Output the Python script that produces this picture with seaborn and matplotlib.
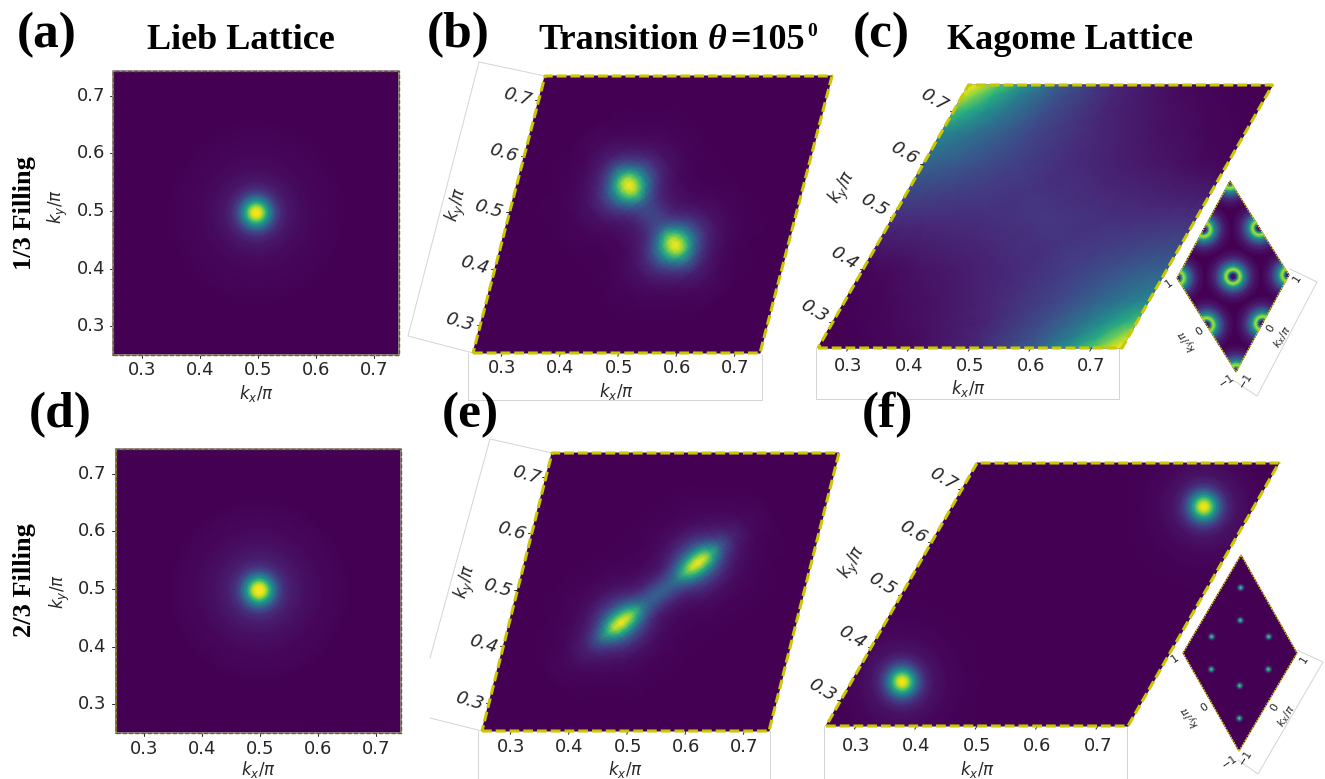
"""
plot.py

Six momentum-space panels (Lieb -> Kagome), two rows of filling, drawn on one
pixel-sized axes so the sheared panels can keep the pasted-together look.
"""

import numpy as np
import matplotlib.pyplot as plt
from matplotlib.patches import Polygon
from matplotlib.transforms import Affine2D
import seaborn as sns

sns.set_theme(style="white")
plt.rcParams["font.family"] = ["DejaVu Sans"]
plt.rcParams["mathtext.fontset"] = "dejavusans"

CMAP = sns.color_palette("viridis", as_cmap=True)
TICKS = [0.3, 0.4, 0.5, 0.6, 0.7]
TICK_LABELS = ["0.3", "0.4", "0.5", "0.6", "0.7"]

# --- single peaks: radial offset in k/pi and intensity
RAD_A = [0, 0.007, 0.012, 0.017, 0.022, 0.028, 0.034, 0.043, 0.055, 0.078, 0.112, 0.164]
VAL_A = [1.0, 0.96, 0.82, 0.63, 0.47, 0.33, 0.20, 0.11, 0.06, 0.03, 0.012, 0.0]
VAL_D = [1.0, 0.98, 0.87, 0.68, 0.50, 0.36, 0.23, 0.13, 0.08, 0.04, 0.018, 0.0]
RAD_F = [0, 0.0066, 0.0116, 0.0166, 0.0215, 0.0265, 0.033, 0.041, 0.053, 0.075, 0.108, 0.149]
VAL_F = [1.0, 0.94, 0.78, 0.60, 0.44, 0.31, 0.18, 0.10, 0.05, 0.02, 0.005, 0.0]
PEAK_A = (0.4966, 0.4966)
PEAK_D = (0.4976, 0.4976)
PEAKS_F = [(0.334, 0.334), (0.667, 0.667)]

# --- double peaks: one quadrant, u along the peak axis, v across it
U_OFF = [0, 0.02, 0.035, 0.05, 0.062, 0.075, 0.088, 0.10, 0.118, 0.14, 0.17, 0.22]
V_OFF = [0, 0.008, 0.016, 0.024, 0.034, 0.048, 0.068, 0.10, 0.15]
QUAD_B = [
    [0.20, 0.22, 0.36, 0.70, 0.92, 1.00, 0.90, 0.62, 0.28, 0.09, 0.03, 0.0],
    [0.18, 0.20, 0.32, 0.62, 0.83, 0.92, 0.82, 0.56, 0.25, 0.08, 0.03, 0.0],
    [0.15, 0.17, 0.26, 0.47, 0.65, 0.72, 0.64, 0.44, 0.20, 0.07, 0.025, 0.0],
    [0.11, 0.12, 0.19, 0.33, 0.45, 0.50, 0.45, 0.31, 0.15, 0.06, 0.02, 0.0],
    [0.07, 0.08, 0.12, 0.20, 0.27, 0.30, 0.27, 0.19, 0.10, 0.045, 0.015, 0.0],
    [0.04, 0.05, 0.07, 0.10, 0.13, 0.14, 0.13, 0.10, 0.06, 0.03, 0.01, 0.0],
    [0.02, 0.02, 0.03, 0.04, 0.05, 0.05, 0.05, 0.04, 0.03, 0.015, 0.005, 0.0],
    [0.005, 0.005, 0.01, 0.01, 0.012, 0.012, 0.012, 0.01, 0.01, 0.005, 0.0, 0.0],
    [0.0, 0.0, 0.0, 0.0, 0.0, 0.0, 0.0, 0.0, 0.0, 0.0, 0.0, 0.0],
]
QUAD_E = [
    [0.30, 0.30, 0.42, 0.72, 0.93, 1.00, 0.92, 0.66, 0.30, 0.10, 0.03, 0.0],
    [0.27, 0.27, 0.37, 0.62, 0.80, 0.88, 0.80, 0.57, 0.26, 0.09, 0.03, 0.0],
    [0.21, 0.21, 0.28, 0.46, 0.60, 0.65, 0.60, 0.43, 0.20, 0.08, 0.025, 0.0],
    [0.14, 0.15, 0.20, 0.31, 0.40, 0.44, 0.40, 0.29, 0.14, 0.06, 0.02, 0.0],
    [0.08, 0.08, 0.11, 0.18, 0.23, 0.25, 0.23, 0.17, 0.09, 0.045, 0.015, 0.0],
    [0.04, 0.04, 0.06, 0.09, 0.11, 0.12, 0.11, 0.09, 0.05, 0.03, 0.01, 0.0],
    [0.015, 0.02, 0.025, 0.035, 0.04, 0.045, 0.04, 0.035, 0.025, 0.015, 0.005, 0.0],
    [0.005, 0.005, 0.008, 0.01, 0.01, 0.01, 0.01, 0.01, 0.008, 0.005, 0.0, 0.0],
    [0.0, 0.0, 0.0, 0.0, 0.0, 0.0, 0.0, 0.0, 0.0, 0.0, 0.0, 0.0],
]
MID_B = (0.496, 0.495)
MID_E = (0.495, 0.495)

# --- panel (c): broad saddle, rows from ky=0.75 down to ky=0.50
GRID_C = [0.25, 0.27, 0.30, 0.34, 0.40, 0.50, 0.60, 0.66, 0.70, 0.73, 0.75]
ROWS_C = [
    [1.00, 0.92, 0.72, 0.50, 0.28, 0.09, 0.03, 0.01, 0.0, 0.0, 0.0],
    [0.92, 0.80, 0.62, 0.43, 0.26, 0.10, 0.03, 0.015, 0.005, 0.0, 0.0],
    [0.70, 0.62, 0.50, 0.38, 0.24, 0.10, 0.04, 0.02, 0.01, 0.005, 0.0],
    [0.46, 0.43, 0.38, 0.31, 0.21, 0.11, 0.05, 0.03, 0.015, 0.01, 0.005],
    [0.31, 0.30, 0.28, 0.24, 0.19, 0.12, 0.07, 0.05, 0.03, 0.02, 0.015],
    [0.13, 0.13, 0.13, 0.13, 0.14, 0.16, 0.14, 0.13, 0.13, 0.13, 0.13],
]

# --- small insets: full zone, -1..1
RAD_RING = [0, 0.035, 0.06, 0.088, 0.105, 0.123, 0.14, 0.175, 0.21, 0.26, 0.32, 0.39, 0.49]
VAL_RING = [0.03, 0.06, 0.25, 0.60, 0.80, 0.90, 0.80, 0.56, 0.40, 0.25, 0.12, 0.05, 0.0]
SITES_RING = [(-1, -1), (-1, 0), (-1, 1), (0, -1), (0, 0), (0, 1), (1, -1), (1, 0), (1, 1)]
RAD_DOT = [0, 0.02, 0.045, 0.07]
VAL_DOT = [0.85, 0.55, 0.2, 0.0]
SITES_DOT = [(2/3, 2/3), (1/3, 1/3), (-1/3, 2/3), (2/3, -1/3),
             (-2/3, 1/3), (1/3, -2/3), (-1/3, -1/3), (-2/3, -2/3)]

# layout in pixels: bottom-left, bottom-right, top-left corner of each panel
LAYOUT = {
    "a": dict(bl=(113, 355), br=(399, 355), tl=(113, 71), span=0.4925, rot=0, slant=0,
              ylab=(58, 207), yrot=90, xlab=(256, 393), xoff=15, yoff=(-22, 0)),
    "d": dict(bl=(115.5, 733), br=(401, 733), tl=(115.5, 449), span=0.4925, rot=0, slant=0,
              ylab=(60, 592), yrot=90, xlab=(258, 770), xoff=16, yoff=(-23, 0)),
    "b": dict(bl=(473, 353), br=(760, 353), tl=(545, 76), span=0.4925, rot=-16, slant=1,
              ylab=(458, 205), yrot=75, xlab=(616, 391), xoff=15, yoff=(-21, -3)),
    "e": dict(bl=(482, 731), br=(769, 731), tl=(552, 453), span=0.4925, rot=-16, slant=1,
              ylab=(467, 582), yrot=75, xlab=(625, 769), xoff=16, yoff=(-20, -2)),
    "c": dict(bl=(818, 348), br=(1122, 348), tl=(968.5, 85), span=0.5, rot=-31, slant=1,
              ylab=(843, 188), yrot=60, xlab=(968, 388), xoff=18, yoff=(-19, -11)),
    "f": dict(bl=(826, 726), br=(1128, 726), tl=(977, 463), span=0.5, rot=-31, slant=1,
              ylab=(853, 563), yrot=60, xlab=(977, 769), xoff=20, yoff=(-19, -10)),
}
INSET_C = dict(bl=(1236, 372), br=(1289, 275), tl=(1177, 278), span=2.0, origin=-1.0, px=57)
INSET_F = dict(bl=(1239, 751), br=(1297, 653), tl=(1183, 653), span=2.0, origin=-1.0, px=57)

# faint frames left from the pasted axes
FRAMES = [
    [(468, 353), (468, 400), (762, 400), (762, 355)],
    [(545, 76), (479, 62), (408, 336), (473, 353)],
    [(816, 348), (816, 399), (1119, 399), (1119, 348)],
    [(1290, 269), (1317, 282), (1257, 396), (1233, 380)],
    [(478, 731), (478, 779)], [(770, 731), (770, 779)],
    [(552, 453), (490, 439), (430, 658)], [(430, 718), (482, 731)],
    [(824, 726), (824, 779)], [(1127, 726), (1127, 779)],
    [(1297, 650), (1323, 662), (1258, 774), (1238, 760)],
]


def panel_transform(p):
    """Data (kx, ky) -> pixel axes, sheared by the panel corners."""
    o = p.get("origin", 0.25)
    (x0, y0), (x1, y1), (x2, y2) = p["bl"], p["br"], p["tl"]
    a, b = (x1 - x0) / p["span"], (x2 - x0) / p["span"]
    c, d = (y1 - y0) / p["span"], (y2 - y0) / p["span"]
    m = np.array([[a, b, x0 - o * (a + b)], [c, d, y0 - o * (c + d)], [0, 0, 1]])
    return Affine2D(m)


def outline(p):
    o = p.get("origin", 0.25)
    return [(o, o), (o + p["span"], o), (o + p["span"], o + p["span"]), (o, o + p["span"]), (o, o)]


def background(ax, p, trans):
    o = p.get("origin", 0.25)
    e = [o, o + p["span"]]
    ax.pcolormesh(e, e, np.zeros((2, 2)), cmap=CMAP, vmin=0, vmax=1,
                  shading="gouraud", transform=trans, zorder=1)


def panel_clip(ax, p, aff):
    corners = [aff.transform(c) for c in outline(p)[:4]]
    clip = Polygon(corners, transform=ax.transData, fill=False, lw=0)
    ax.add_patch(clip)
    return clip


def radial_peak(ax, p, aff, centre, rad, val, clip):
    """One round spot, drawn round in pixels, not sheared."""
    cx, cy = aff.transform(centre)
    scale = p.get("px", (p["br"][0] - p["bl"][0]) / p["span"])
    ang = np.linspace(0, 2 * np.pi, 65)
    rr, tt = np.meshgrid(np.array(rad) * scale, ang)
    zz = np.tile(np.array(val), (len(ang), 1))
    m = ax.pcolormesh(cx + rr * np.cos(tt), cy + rr * np.sin(tt), zz, cmap=CMAP, vmin=0, vmax=1,
                      shading="gouraud", zorder=2)
    m.set_clip_path(clip)


def double_peak(ax, mid, quad, along, across, trans, clip):
    u = np.array(U_OFF)
    v = np.array(V_OFF)
    uu = np.concatenate([-u[:0:-1], u])
    vv = np.concatenate([-v[:0:-1], v])
    q = np.array(quad)
    q = np.hstack([q[:, :0:-1], q])
    q = np.vstack([q[:0:-1, :], q])
    gu, gv = np.meshgrid(uu, vv)
    kx = mid[0] + gu * along[0] + gv * across[0]
    ky = mid[1] + gu * along[1] + gv * across[1]
    m = ax.pcolormesh(kx, ky, q, cmap=CMAP, vmin=0, vmax=1, shading="gouraud",
                      transform=trans, zorder=2)
    m.set_clip_path(clip)


def draw_axes_text(ax, p, aff, trans):
    low = 0.25
    for t, lab in zip(TICKS, TICK_LABELS):
        ax.plot([t, t], [low, low - 0.006], color=".15", lw=0.7, transform=trans, zorder=4)
        ax.plot([low, low - 0.006], [t, t], color=".15", lw=0.7, transform=trans, zorder=4)
        bx, by = aff.transform((t, low))
        ax.text(bx, by + p["xoff"], lab, ha="center", va="center", fontsize=13, color=".15")
        lx, ly = aff.transform((low, t))
        ax.text(lx + p["yoff"][0], ly + p["yoff"][1], lab, ha="center", va="center", fontsize=13,
                color=".15", rotation=p["rot"], rotation_mode="anchor",
                style="oblique" if p["slant"] else "normal")
    ax.text(*p["xlab"], r"$k_x/\pi$", ha="center", va="center", fontsize=12, color=".15")
    ax.text(*p["ylab"], r"$k_y/\pi$", ha="center", va="center", fontsize=12, color=".15",
            rotation=p["yrot"], rotation_mode="anchor")


def draw_border(ax, p, trans, thin=False):
    kx, ky = zip(*outline(p))
    if thin:
        ax.plot(kx, ky, color="#9a9a9a", lw=1.2, transform=trans, zorder=5)
        ax.plot(kx, ky, color="#6f6200", lw=1.0, ls=(0, (3, 1.5)), transform=trans, zorder=6)
    else:
        ax.plot(kx, ky, color="#c9c800", lw=2.2, ls=(0, (3.2, 1.3)), dash_capstyle="butt",
                transform=trans, zorder=6)


def draw_inset(ax, p, rad, val, sites, labels):
    aff = panel_transform(p)
    trans = aff + ax.transData
    background(ax, p, trans)
    clip = panel_clip(ax, p, aff)
    for s in sites:
        radial_peak(ax, p, aff, s, rad, val, clip)
    kx, ky = zip(*outline(p))
    ax.plot(kx, ky, color="#d6cf10", lw=0.9, ls=(0, (1.5, 0.8)), transform=trans, zorder=6)
    for (x, y, s, r) in labels:
        ax.text(x, y, s, ha="center", va="center", fontsize=8, color=".15", rotation=r,
                rotation_mode="anchor")


def main():
    fig = plt.figure(figsize=(13.25, 7.79), dpi=100)
    ax = fig.add_axes([0, 0, 1, 1])
    ax.set_xlim(0, 1325)
    ax.set_ylim(779, 0)
    ax.set_autoscale_on(False)
    ax.axis("off")

    for pts in FRAMES:
        xs, ys = zip(*pts)
        ax.plot(xs, ys, color="#d4d4d4", lw=0.7, zorder=0)

    s = 1 / np.sqrt(2)
    for name, p in LAYOUT.items():
        aff = panel_transform(p)
        trans = aff + ax.transData
        background(ax, p, trans)
        clip = panel_clip(ax, p, aff)
        if name == "a":
            radial_peak(ax, p, aff, PEAK_A, RAD_A, VAL_A, clip)
        elif name == "d":
            radial_peak(ax, p, aff, PEAK_D, RAD_A, VAL_D, clip)
        elif name == "b":
            double_peak(ax, MID_B, QUAD_B, (s, -s), (s, s), trans, clip)
        elif name == "e":
            double_peak(ax, MID_E, QUAD_E, (s, s), (s, -s), trans, clip)
        elif name == "c":
            top = np.array(ROWS_C)
            # lower half is the upper half turned through the centre
            z = np.vstack([top[:5, ::-1], top[::-1]])
            ax.pcolormesh(GRID_C, GRID_C, z, cmap=CMAP, vmin=0, vmax=1,
                          shading="gouraud", transform=trans, zorder=2)
        elif name == "f":
            for pk in PEAKS_F:
                radial_peak(ax, p, aff, pk, RAD_F, VAL_F, clip)
        draw_border(ax, p, trans, thin=name in ("a", "d"))
        draw_axes_text(ax, p, aff, trans)

    draw_inset(ax, INSET_C, RAD_RING, VAL_RING, SITES_RING, [
        (1227, 381, "\u22121", 35), (1199, 332, "0", 35), (1169, 284, "1", 35),
        (1246, 380, "\u22121", 58), (1271, 328, "0", 58), (1297, 278, "1", 58),
        (1282, 337, r"$k_x/\pi$", 58), (1188, 340, r"$k_y/\pi$", 125)])
    draw_inset(ax, INSET_F, RAD_DOT, VAL_DOT, SITES_DOT, [
        (1230, 762, "\u22121", 35), (1204, 708, "0", 35), (1175, 659, "1", 35),
        (1246, 757, "\u22121", 58), (1275, 707, "0", 58), (1304, 659, "1", 58),
        (1286, 716, r"$k_x/\pi$", 58), (1191, 716, r"$k_y/\pi$", 125)])

    serif = dict(family="Liberation Serif", weight="bold", color="black", va="center")
    for t, x, y in [("(a)", 17, 35), ("(b)", 427, 35), ("(c)", 853, 35),
                    ("(d)", 29, 415), ("(e)", 442, 415), ("(f)", 862, 415)]:
        ax.text(x, y, t, fontsize=37, ha="left", **serif)
    ax.text(147, 40, "Lieb Lattice", fontsize=26, ha="left", **serif)
    ax.text(538, 40, "Transition", fontsize=26, ha="left", **serif)
    ax.text(708, 40, "\u03b8", fontsize=26, ha="left", style="italic", **serif)
    ax.text(730, 40, "=105", fontsize=26, ha="left", **serif)
    ax.text(807, 31, "0", fontsize=14, ha="left", **serif)
    ax.text(947, 40, "Kagome Lattice", fontsize=26, ha="left", **serif)
    ax.text(25, 213, "1/3 Filling", fontsize=19, ha="center", rotation=90, **serif)
    ax.text(25, 580, "2/3 Filling", fontsize=19, ha="center", rotation=90, **serif)

    fig.savefig("out.png", dpi=100, facecolor="white")


if __name__ == "__main__":
    main()
